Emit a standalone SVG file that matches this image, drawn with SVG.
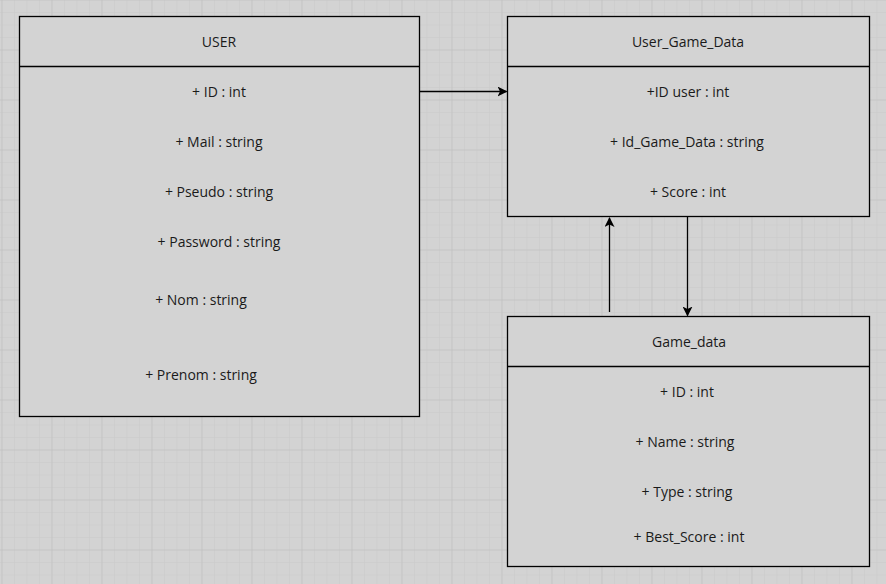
<svg xmlns="http://www.w3.org/2000/svg" width="886" height="584" viewBox="0 0 886 584">
<defs>
<pattern id="minor" width="12.5" height="12.5" patternUnits="userSpaceOnUse" x="1.5" y="-0.5">
<path d="M0 0H12.5M0 0V12.5" fill="none" stroke="#c9c9c9" stroke-width="1"/>
</pattern>
<pattern id="major" width="50" height="50" patternUnits="userSpaceOnUse" x="1.5" y="-0.5">
<path d="M0 0H50M0 0V50" fill="none" stroke="#bdbdbd" stroke-width="1"/>
</pattern>
<marker id="arr" viewBox="0 0 10 10" refX="9" refY="5" markerWidth="10" markerHeight="10" markerUnits="userSpaceOnUse" orient="auto">
<path d="M0 0L10 5L0 10L2.5 5Z" fill="#000"/>
</marker>
<style>
.box{fill:#d3d3d3;stroke:#000;stroke-width:1.3}
.sep{stroke:#000;stroke-width:1.3}
text{font-family:"Open Sans","Liberation Sans",Arial,sans-serif;font-size:14px;fill:#1a1a1a;text-anchor:middle;dominant-baseline:central}
.edge{fill:none;stroke:#000;stroke-width:1.3;marker-end:url(#arr)}
</style>
</defs>
<rect width="886" height="584" fill="#d3d3d3"/>
<rect width="886" height="584" fill="url(#minor)"/>
<rect width="886" height="584" fill="url(#major)"/>

<g id="user">
<rect class="box" x="19.5" y="16.5" width="400" height="400"/>
<line class="sep" x1="19.5" y1="66.5" x2="419.5" y2="66.5"/>
<text x="219" y="41">USER</text>
<text x="219" y="91">+ ID : int</text>
<text x="219" y="141">+ Mail : string</text>
<text x="219" y="191">+ Pseudo : string</text>
<text x="219" y="241">+ Password : string</text>
<text x="201" y="299">+ Nom : string</text>
<text x="201" y="374">+ Prenom : string</text>
</g>

<g id="user_game_data">
<rect class="box" x="507.5" y="16.5" width="362" height="200"/>
<line class="sep" x1="507.5" y1="66.5" x2="869.5" y2="66.5"/>
<text x="688" y="41">User_Game_Data</text>
<text x="688" y="91">+ID user : int</text>
<text x="687" y="141">+ Id_Game_Data : string</text>
<text x="688" y="191">+ Score : int</text>
</g>

<g id="game_data">
<rect class="box" x="507.5" y="316.5" width="362" height="250"/>
<line class="sep" x1="507.5" y1="366.5" x2="869.5" y2="366.5"/>
<text x="689" y="341">Game_data</text>
<text x="687" y="391">+ ID : int</text>
<text x="685" y="441">+ Name : string</text>
<text x="687" y="491">+ Type : string</text>
<text x="689" y="536">+ Best_Score : int</text>
</g>

<g id="connectors">
<path class="edge" d="M419.5 91.5H506.5"/>
<path class="edge" d="M609.5 312V218"/>
<path class="edge" d="M687.5 216.5V315.5"/>
</g>
</svg>
